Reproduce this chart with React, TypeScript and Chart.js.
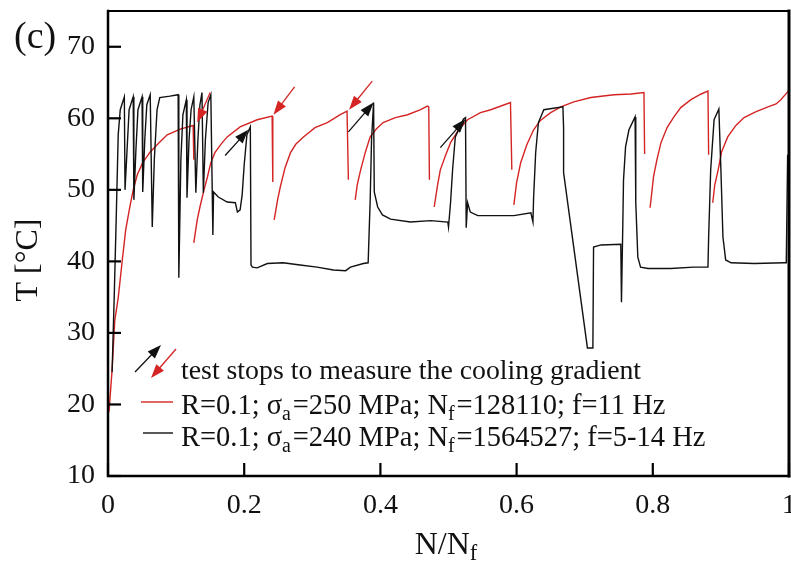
import React, { useEffect, useRef } from "react";
import { Chart, registerables } from "chart.js";

Chart.register(...registerables);

// ---------- data ----------
// black: R=0.1; sigma_a=240 MPa; Nf=1564527; f=5-14 Hz
const blackN = [
  0.006, 0.009, 0.012, 0.015, 0.018, 0.024, 0.025, 0.028, 0.031, 0.037,
  0.038, 0.041, 0.044, 0.05, 0.051, 0.054, 0.057, 0.062, 0.065, 0.068,
  0.072, 0.076, 0.091, 0.103, 0.104, 0.107, 0.11, 0.115, 0.116, 0.119,
  0.122, 0.126, 0.129, 0.132, 0.135, 0.138, 0.14, 0.143, 0.147, 0.151,
  0.154, 0.155, 0.162, 0.175, 0.187, 0.19, 0.194, 0.197, 0.2, 0.204,
  0.209, 0.21, 0.212, 0.219, 0.234, 0.257, 0.282, 0.307, 0.331, 0.349,
  0.356, 0.375, 0.382, 0.385, 0.387, 0.39, 0.391, 0.396, 0.403, 0.415,
  0.444, 0.474, 0.499, 0.5, 0.503, 0.506, 0.51, 0.522, 0.525, 0.526,
  0.528, 0.532, 0.543, 0.566, 0.596, 0.621, 0.624, 0.625, 0.628, 0.632,
  0.64, 0.668, 0.669, 0.669, 0.704, 0.712, 0.713, 0.724, 0.753, 0.754,
  0.756, 0.757, 0.76, 0.765, 0.774, 0.775, 0.778, 0.782, 0.793, 0.826,
  0.86, 0.881, 0.882, 0.885, 0.89, 0.897, 0.9, 0.903, 0.907, 0.915,
  0.949, 0.993, 0.996, 0.998,
];
const blackT = [
  24.5, 34.6, 45.8, 57.7, 61.2, 63.0, 50.0, 55.6, 61.2, 63.0,
  48.6, 55.6, 61.2, 63.0, 49.7, 57.0, 61.9, 63.3, 44.8, 54.2,
  61.2, 62.9, 63.1, 63.3, 37.7, 54.2, 60.5, 62.6, 48.9, 57.0,
  61.2, 63.0, 49.6, 57.0, 61.9, 63.6, 49.6, 57.0, 62.2, 63.3,
  43.7, 49.7, 49.0, 48.3, 48.2, 46.9, 47.2, 49.3, 53.5, 57.7,
  58.8, 39.5, 39.2, 39.1, 39.7, 39.8, 39.5, 39.2, 38.8, 38.7,
  39.2, 39.7, 39.8, 48.6, 57.0, 62.2, 49.7, 47.6, 46.5, 45.9,
  45.5, 45.7, 45.5, 44.8, 48.2, 52.8, 57.4, 59.9, 60.1, 44.7,
  48.2, 46.9, 46.4, 46.4, 46.4, 46.8, 45.5, 49.0, 55.2, 59.4,
  61.2, 61.6, 58.7, 52.4, 27.9, 27.9, 42.0, 42.3, 42.4, 34.3,
  45.4, 51.4, 56.0, 58.4, 60.2, 48.2, 40.6, 39.2, 39.0, 39.0,
  39.2, 39.2, 43.4, 52.8, 59.8, 61.3, 52.8, 43.4, 40.2, 39.8,
  39.7, 39.8, 39.8, 54.9,
];

// red: R=0.1; sigma_a=250 MPa; Nf=128110; f=11 Hz  (null = break between runs)
const redN = [
  0.0015, 0.006, 0.01, 0.015, 0.021, 0.026, 0.032, 0.037, 0.043, 0.051,
  0.062, 0.076, 0.087, 0.106, 0.125, 0.126, 0.126,
  0.126, 0.131, 0.135, 0.141, 0.146, 0.151, 0.157, 0.166, 0.175, 0.194,
  0.219, 0.241, 0.242, 0.243,
  0.244, 0.249, 0.253, 0.26, 0.268, 0.276, 0.287, 0.304, 0.322, 0.341,
  0.351, 0.353, 0.355,
  0.363, 0.366, 0.371, 0.378, 0.385, 0.394, 0.404, 0.422, 0.44, 0.459,
  0.469, 0.471, 0.472, 0.475,
  0.479, 0.484, 0.488, 0.496, 0.503, 0.515, 0.528, 0.547, 0.562, 0.591,
  0.593, 0.594,
  0.596, 0.6, 0.606, 0.615, 0.625, 0.635, 0.65, 0.665, 0.684, 0.709,
  0.743, 0.768, 0.787, 0.788, 0.79,
  0.796, 0.799, 0.801, 0.806, 0.812, 0.821, 0.831, 0.841, 0.856, 0.871,
  0.881, 0.882, 0.885,
  0.888, 0.891, 0.896, 0.901, 0.91, 0.922, 0.934, 0.951, 0.969, 0.981,
  0.988, 0.999,
];
const redT = [
  19.0, 24.8, 31.8, 34.9, 40.2, 44.4, 47.6, 50.0, 52.1, 53.8,
  55.3, 56.7, 57.7, 58.5, 59.0, 54.2, null,
  42.6, 45.8, 47.6, 50.0, 51.8, 53.8, 55.2, 56.4, 57.4, 58.8,
  59.8, 60.3, 51.1, null,
  45.8, 48.6, 50.4, 53.1, 55.2, 56.4, 57.4, 58.7, 59.4, 60.5,
  61.0, 51.4, null,
  48.6, 50.7, 52.8, 55.3, 57.4, 58.5, 59.4, 60.1, 60.5, 61.2,
  61.7, 61.6, 51.4, null,
  47.6, 50.7, 52.8, 54.9, 56.6, 58.4, 59.8, 60.8, 61.2, 62.2,
  52.8, null,
  47.9, 51.0, 53.8, 56.3, 58.4, 59.7, 60.8, 61.6, 62.3, 62.9,
  63.3, 63.4, 63.6, 55.0, null,
  47.5, 50.0, 51.8, 54.2, 56.6, 58.7, 60.2, 61.5, 62.6, 63.4,
  63.8, 54.9, null,
  48.2, 50.7, 52.8, 55.3, 57.4, 59.0, 60.1, 60.9, 61.6, 62.0,
  62.6, 63.8,
];

// test stops (arrows): tail -> tip, in data coordinates
const blackStopTailN = [0.172, 0.353, 0.488];
const blackStopTailT = [54.8, 58.1, 55.9];
const blackStopTipN = [0.206, 0.39, 0.525];
const blackStopTipT = [58.4, 62.2, 59.9];
const redStopTailN = [0.15, 0.274, 0.388];
const redStopTailT = [63.6, 64.4, 65.2];
const redStopTipN = [0.131, 0.243, 0.354];
const redStopTipT = [59.4, 60.5, 61.2];

const xTickValues = [0, 0.2, 0.4, 0.6, 0.8, 1];
const yTickValues = [10, 20, 30, 40, 50, 60, 70];

const legendStops = "test stops to measure the cooling gradient";
const legendRed = [
  { t: "R=0.1; σ" },
  { t: "a", sub: true },
  { t: "=250 MPa; N" },
  { t: "f", sub: true },
  { t: "=128110; f=11 Hz" },
];
const legendBlack = [
  { t: "R=0.1; σ" },
  { t: "a", sub: true },
  { t: "=240 MPa; N" },
  { t: "f", sub: true },
  { t: "=1564527; f=5-14 Hz" },
];

const RED = "#d42424";
const BLACK = "#111111";
const FONT = "'Liberation Serif', 'Times New Roman', serif";

type Part = { t: string; sub?: boolean };

function richWidth(ctx: CanvasRenderingContext2D, parts: Part[], size: number) {
  let w = 0;
  for (const p of parts) {
    ctx.font = `${p.sub ? size * 0.7 : size}px ${FONT}`;
    w += ctx.measureText(p.t).width + (p.sub ? size * 0.06 : 0);
  }
  return w;
}

function drawRich(ctx: CanvasRenderingContext2D, parts: Part[], x: number, y: number, size: number) {
  let cx = x;
  ctx.textBaseline = "alphabetic";
  ctx.textAlign = "left";
  for (const p of parts) {
    const s = p.sub ? size * 0.7 : size;
    ctx.font = `${s}px ${FONT}`;
    ctx.fillText(p.t, cx, p.sub ? y + size * 0.2 : y);
    cx += ctx.measureText(p.t).width + (p.sub ? size * 0.06 : 0);
  }
}

function drawArrow(ctx: CanvasRenderingContext2D, x1: number, y1: number, x2: number, y2: number, color: string) {
  const ang = Math.atan2(y2 - y1, x2 - x1);
  const hl = 14;
  const hw = 5;
  ctx.strokeStyle = color;
  ctx.fillStyle = color;
  ctx.lineWidth = 1.3;
  ctx.beginPath();
  ctx.moveTo(x1, y1);
  ctx.lineTo(x2 - Math.cos(ang) * hl * 0.8, y2 - Math.sin(ang) * hl * 0.8);
  ctx.stroke();
  const bx = x2 - Math.cos(ang) * hl;
  const by = y2 - Math.sin(ang) * hl;
  ctx.beginPath();
  ctx.moveTo(x2, y2);
  ctx.lineTo(bx + Math.sin(ang) * hw, by - Math.cos(ang) * hw);
  ctx.lineTo(bx - Math.sin(ang) * hw, by + Math.cos(ang) * hw);
  ctx.closePath();
  ctx.fill();
}

const decorPlugin = {
  id: "decor",
  afterDraw(chart: any) {
    const { ctx, chartArea: a } = chart;
    const xs = chart.scales.x;
    const ys = chart.scales.y;
    ctx.save();

    // arrows marking the test stops
    for (let i = 0; i < blackStopTailN.length; i++) {
      drawArrow(
        ctx,
        xs.getPixelForValue(blackStopTailN[i]),
        ys.getPixelForValue(blackStopTailT[i]),
        xs.getPixelForValue(blackStopTipN[i]),
        ys.getPixelForValue(blackStopTipT[i]),
        BLACK
      );
    }
    for (let i = 0; i < redStopTailN.length; i++) {
      drawArrow(
        ctx,
        xs.getPixelForValue(redStopTailN[i]),
        ys.getPixelForValue(redStopTailT[i]),
        xs.getPixelForValue(redStopTipN[i]),
        ys.getPixelForValue(redStopTipT[i]),
        RED
      );
    }

    // frame
    ctx.strokeStyle = "#000";
    ctx.lineCap = "square";
    ctx.lineWidth = 2.5;
    ctx.beginPath();
    ctx.moveTo(a.left, a.top);
    ctx.lineTo(a.left, a.bottom);
    ctx.lineTo(a.right, a.bottom);
    ctx.stroke();
    ctx.lineWidth = 3;
    ctx.beginPath();
    ctx.moveTo(a.right, a.bottom);
    ctx.lineTo(a.right, a.top);
    ctx.stroke();
    ctx.lineWidth = 2;
    ctx.beginPath();
    ctx.moveTo(a.left, a.top);
    ctx.lineTo(a.right, a.top);
    ctx.stroke();

    // inward ticks
    ctx.lineWidth = 2.2;
    ctx.lineCap = "butt";
    for (const v of yTickValues) {
      const py = ys.getPixelForValue(v);
      ctx.beginPath();
      ctx.moveTo(a.left, py);
      ctx.lineTo(a.left + 13, py);
      ctx.stroke();
    }
    for (const v of xTickValues) {
      const px = xs.getPixelForValue(v);
      ctx.beginPath();
      ctx.moveTo(px, a.bottom);
      ctx.lineTo(px, a.bottom - 13);
      ctx.stroke();
    }

    // legend
    const L = a.left;
    const T = a.top;
    drawArrow(ctx, L + 27, T + 361, L + 53, T + 334, BLACK);
    drawArrow(ctx, L + 68, T + 338, L + 43, T + 367, RED);
    ctx.fillStyle = "#111";
    drawRich(ctx, [{ t: legendStops }], L + 73, T + 368, 27.8);
    ctx.lineWidth = 1.4;
    ctx.strokeStyle = RED;
    ctx.beginPath();
    ctx.moveTo(L + 33, T + 391);
    ctx.lineTo(L + 65, T + 391);
    ctx.stroke();
    ctx.fillStyle = "#111";
    drawRich(ctx, legendRed, L + 73, T + 403, 28.5);
    ctx.strokeStyle = BLACK;
    ctx.beginPath();
    ctx.moveTo(L + 35, T + 422);
    ctx.lineTo(L + 65, T + 422);
    ctx.stroke();
    drawRich(ctx, legendBlack, L + 73, T + 435, 28.5);

    // panel label
    ctx.fillStyle = "#111";
    ctx.font = `38px ${FONT}`;
    ctx.textAlign = "left";
    ctx.textBaseline = "alphabetic";
    ctx.fillText("(c)", 14, 48);

    // y axis title
    ctx.save();
    ctx.translate(37, 260);
    ctx.rotate(-Math.PI / 2);
    ctx.font = `32px ${FONT}`;
    ctx.textAlign = "center";
    ctx.textBaseline = "alphabetic";
    ctx.fillText("T [°C]", 0, 0);
    ctx.restore();

    // x axis title
    const xt: Part[] = [{ t: "N/N" }, { t: "f", sub: true }];
    const w = richWidth(ctx, xt, 32);
    ctx.fillStyle = "#111";
    drawRich(ctx, xt, 447 - w / 2, 554, 32);

    ctx.restore();
  },
};

export default function App() {
  const ref = useRef<HTMLCanvasElement | null>(null);

  useEffect(() => {
    if (!ref.current) return;
    const blackData = blackN.map((n, i) => ({ x: n, y: blackT[i] }));
    const redData = redN.map((n, i) => ({ x: n, y: redT[i] }));
    const tickFont = { family: FONT, size: 28 };
    const chart = new Chart(ref.current, {
      type: "line",
      data: {
        datasets: [
          {
            label: "R=0.1; σa=240 MPa; Nf=1564527; f=5-14 Hz",
            data: blackData as any,
            borderColor: BLACK,
            borderWidth: 1.4,
            pointRadius: 0,
            tension: 0,
            spanGaps: false,
          },
          {
            label: "R=0.1; σa=250 MPa; Nf=128110; f=11 Hz",
            data: redData as any,
            borderColor: RED,
            borderWidth: 1.4,
            pointRadius: 0,
            tension: 0,
            spanGaps: false,
          },
        ],
      },
      options: {
        animation: false,
        responsive: false,
        devicePixelRatio: 1,
        layout: { padding: { left: 0, right: 2, top: 11, bottom: 0 } },
        plugins: {
          legend: { display: false },
          tooltip: { enabled: false },
        },
        scales: {
          x: {
            type: "linear",
            min: 0,
            max: 1,
            grid: { display: false, drawTicks: false },
            border: { display: false },
            ticks: {
              font: tickFont,
              color: "#111",
              padding: 13,
              maxRotation: 0,
              autoSkip: false,
              callback: (v: any) => String(v),
            },
            afterBuildTicks: (s: any) => {
              s.ticks = xTickValues.map((v) => ({ value: v }));
            },
            afterFit: (s: any) => {
              s.height = 91;
              s.paddingLeft = 0;
              s.paddingRight = 0;
              s.paddingTop = 0;
              s.paddingBottom = 0;
            },
          },
          y: {
            type: "linear",
            min: 10,
            max: 75,
            grid: { display: false, drawTicks: false },
            border: { display: false },
            ticks: {
              font: tickFont,
              color: "#111",
              padding: 13,
              autoSkip: false,
              callback: (v: any) => String(v),
            },
            afterBuildTicks: (s: any) => {
              s.ticks = yTickValues.map((v) => ({ value: v }));
            },
            afterFit: (s: any) => {
              s.width = 108;
              s.paddingLeft = 0;
              s.paddingRight = 0;
              s.paddingTop = 0;
              s.paddingBottom = 0;
            },
          },
        },
      },
      plugins: [decorPlugin],
    });
    return () => chart.destroy();
  }, []);

  return (
    <div style={{ position: "fixed", left: 0, top: 0, width: 791, height: 567, background: "#fff" }}>
      <canvas ref={ref} width={791} height={567} style={{ display: "block" }} />
    </div>
  );
}
